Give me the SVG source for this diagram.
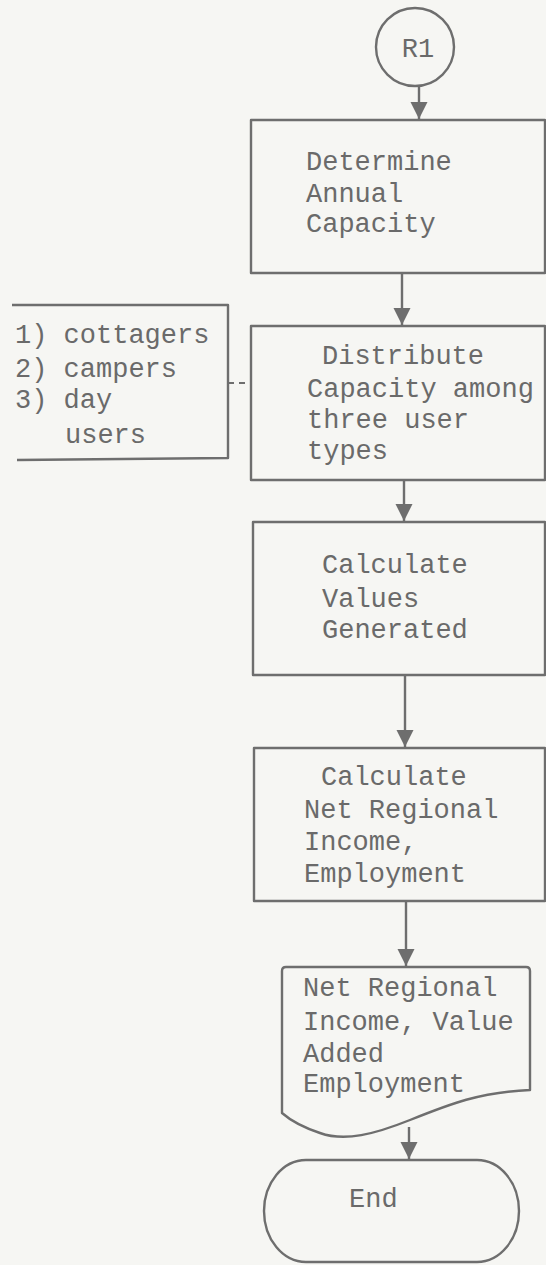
<svg xmlns="http://www.w3.org/2000/svg" width="546" height="1265" viewBox="0 0 546 1265">
  <style>
    .bg { fill: #f6f6f3; }
    .shape { fill: none; stroke: #6e6e6e; stroke-width: 2.4; stroke-linejoin: round; }
    .line { fill: none; stroke: #6e6e6e; stroke-width: 2.4; }
    .dash { fill: none; stroke: #6e6e6e; stroke-width: 2; stroke-dasharray: 6 5; }
    .t { font-family: "Liberation Mono", "DejaVu Sans Mono", monospace; font-size: 27px; fill: #6a6a6a; }
  </style>
  <defs>
    <marker id="arrow" markerUnits="userSpaceOnUse" markerWidth="18" markerHeight="18" viewBox="0 0 18 18" refX="17" refY="9" orient="auto">
      <path d="M0,0.5 L17,9 L0,17.5 Z" fill="#6e6e6e"/>
    </marker>
  </defs>

  <rect class="bg" x="0" y="0" width="546" height="1265"/>

  <!-- connectors -->
  <g id="connectors">
    <line class="line" x1="419" y1="86" x2="419" y2="119" marker-end="url(#arrow)"/>
    <line class="line" x1="402" y1="273" x2="402" y2="325" marker-end="url(#arrow)"/>
    <line class="line" x1="404" y1="480" x2="404" y2="521" marker-end="url(#arrow)"/>
    <line class="line" x1="405" y1="675" x2="405" y2="747" marker-end="url(#arrow)"/>
    <line class="line" x1="406" y1="901" x2="406" y2="966" marker-end="url(#arrow)"/>
    <line class="line" x1="409" y1="1127" x2="409" y2="1159" marker-end="url(#arrow)"/>
    <line class="dash" x1="228" y1="383" x2="251" y2="383"/>
  </g>

  <!-- connector R1 -->
  <g id="node-r1">
    <circle class="shape" cx="415" cy="47" r="39"/>
    <text class="t" x="418" y="57" text-anchor="middle">R1</text>
  </g>

  <g id="node-capacity">
    <rect class="shape" x="251" y="120" width="294" height="153"/>
    <text class="t" x="306" y="170">Determine</text>
    <text class="t" x="306" y="202">Annual</text>
    <text class="t" x="306" y="232">Capacity</text>
  </g>

  <!-- annotation: user types -->
  <g id="node-user-types">
    <path class="shape" d="M12,305 L228,305 L228,458 L17,460"/>
    <text class="t" x="15" y="343">1) cottagers</text>
    <text class="t" x="15" y="377">2) campers</text>
    <text class="t" x="15" y="408">3) day</text>
    <text class="t" x="65" y="443">users</text>
  </g>

  <g id="node-distribute">
    <rect class="shape" x="251" y="326" width="294" height="154"/>
    <text class="t" x="322" y="364">Distribute</text>
    <text class="t" x="307" y="397">Capacity among</text>
    <text class="t" x="307" y="428">three user</text>
    <text class="t" x="307" y="459">types</text>
  </g>

  <g id="node-values">
    <rect class="shape" x="253" y="522" width="292" height="153"/>
    <text class="t" x="322" y="573">Calculate</text>
    <text class="t" x="322" y="607">Values</text>
    <text class="t" x="322" y="638">Generated</text>
  </g>

  <g id="node-income">
    <rect class="shape" x="254" y="748" width="291" height="153"/>
    <text class="t" x="321" y="785">Calculate</text>
    <text class="t" x="304" y="818">Net Regional</text>
    <text class="t" x="304" y="850">Income,</text>
    <text class="t" x="304" y="882">Employment</text>
  </g>

  <!-- output document -->
  <g id="node-report">
    <path class="shape" d="M286,967 L526,967 Q530,967 530,971 L530,1090 C480,1092 450,1104 410,1120 C375,1134 345,1142 320,1133 C302,1127 290,1120 282,1113 L282,971 Q282,967 286,967 Z"/>
    <text class="t" x="303" y="996">Net Regional</text>
    <text class="t" x="303" y="1030">Income, Value</text>
    <text class="t" x="303" y="1062">Added</text>
    <text class="t" x="303" y="1092">Employment</text>
  </g>

  <g id="node-end">
    <rect class="shape" x="264" y="1160" width="255" height="102" rx="42" ry="51"/>
    <text class="t" x="349" y="1207">End</text>
  </g>
</svg>
